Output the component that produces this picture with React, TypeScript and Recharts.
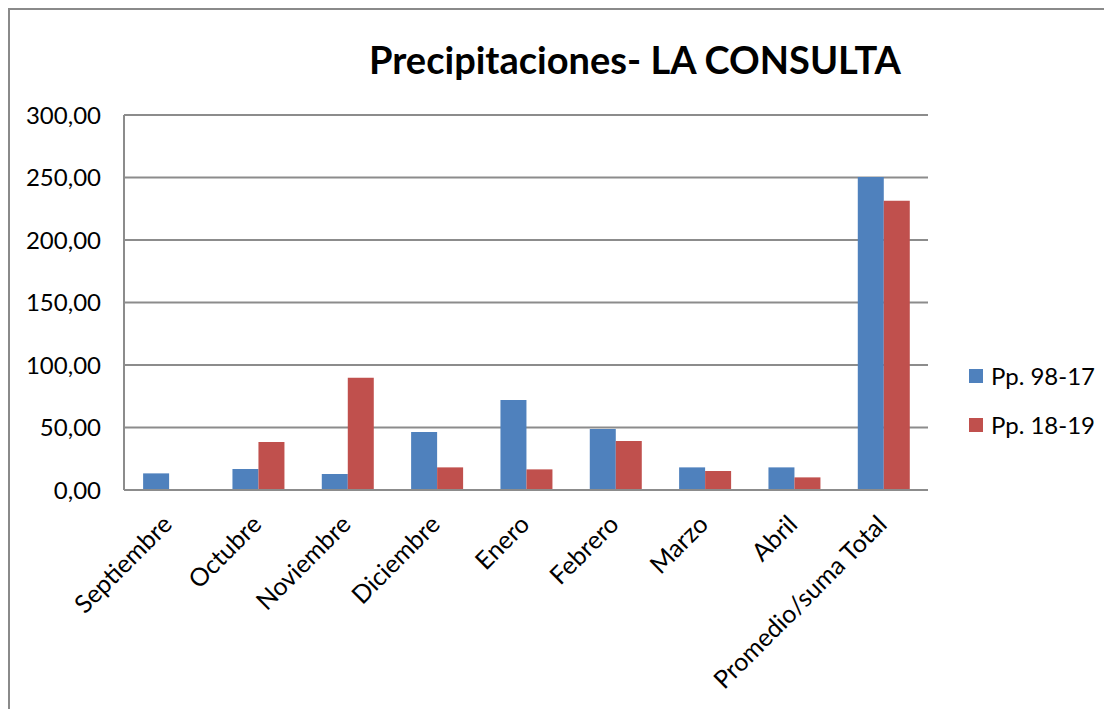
import { BarChart, Bar, XAxis, YAxis, CartesianGrid } from 'recharts'

const months = [
  'Septiembre', 'Octubre', 'Noviembre', 'Diciembre', 'Enero',
  'Febrero', 'Marzo', 'Abril', 'Promedio/suma Total',
]
const pp9817 = [13.3, 16.8, 12.8, 46.4, 72.0, 48.8, 18.1, 18.1, 250.5]
const pp1819 = [0.8, 38.4, 89.9, 18.1, 16.5, 39.2, 15.2, 10.1, 231.4]
const yTicks = [0, 50, 100, 150, 200, 250, 300]

const BLUE = '#4F81BD'
const RED = '#C0504D'
const GRID = '#8c8c8c'
const FONT = 'Lato, "Open Sans", sans-serif'

const series = [
  { key: 'Pp. 98-17', color: BLUE, values: pp9817 },
  { key: 'Pp. 18-19', color: RED, values: pp1819 },
]

const data = months.map((m, i) => {
  const row: Record<string, string | number> = { month: m }
  series.forEach(s => { row[s.key] = s.values[i] })
  return row
})

function fmt(v: number): string {
  return v.toFixed(2).replace('.', ',')
}

function MonthTick({ x, y, payload }: any) {
  const ax = x + 5
  const ay = y + 36
  return (
    <text
      x={ax} y={ay}
      transform={`rotate(-45, ${ax}, ${ay})`}
      textAnchor="end"
      fill="#000"
      fontSize={25}
      fontFamily={FONT}
    >
      {payload.value}
    </text>
  )
}

export default function App() {
  return (
    <div style={{
      position: 'relative', width: 1104, height: 701, overflow: 'hidden',
      borderLeft: '2px solid #8a8a8a', borderTop: '2px solid #8a8a8a', background: '#fff',
    }}>
      <div style={{
        position: 'absolute', top: 26, left: 0, width: 1250, textAlign: 'center',
        fontFamily: FONT, fontWeight: 700, fontSize: 38, color: '#000',
      }}>
        Precipitaciones- LA CONSULTA
      </div>
      <div style={{
        position: 'absolute', left: 959, top: 341, fontFamily: FONT, fontSize: 24, color: '#000',
      }}>
        {series.map(s => (
          <div key={s.key} style={{ display: 'flex', alignItems: 'center', height: 49 }}>
            <span style={{ width: 14, height: 14, background: s.color, marginRight: 8, display: 'inline-block' }} />
            <span>{s.key}</span>
          </div>
        ))}
      </div>
      <BarChart
        width={1102}
        height={699}
        data={data}
        margin={{ top: 105, right: 184, left: 0, bottom: 0 }}
        barCategoryGap="21.4%"
        barGap={0}
      >
        <CartesianGrid vertical={false} stroke={GRID} strokeWidth={2} />
        <XAxis
          dataKey="month"
          interval={0}
          height={219}
          tickSize={0}
          tickMargin={0}
          tick={<MonthTick />}
          axisLine={{ stroke: GRID, strokeWidth: 2 }}
        />
        <YAxis
          width={114}
          domain={[0, 300]}
          ticks={yTicks}
          tickFormatter={fmt}
          tickSize={0}
          tickMargin={23}
          tickLine={false}
          axisLine={{ stroke: GRID, strokeWidth: 2 }}
          tick={{ fill: '#000', fontSize: 24, fontFamily: FONT }}
        />
        {series.map(s => (
          <Bar key={s.key} dataKey={s.key} fill={s.color} isAnimationActive={false} />
        ))}
      </BarChart>
    </div>
  )
}
